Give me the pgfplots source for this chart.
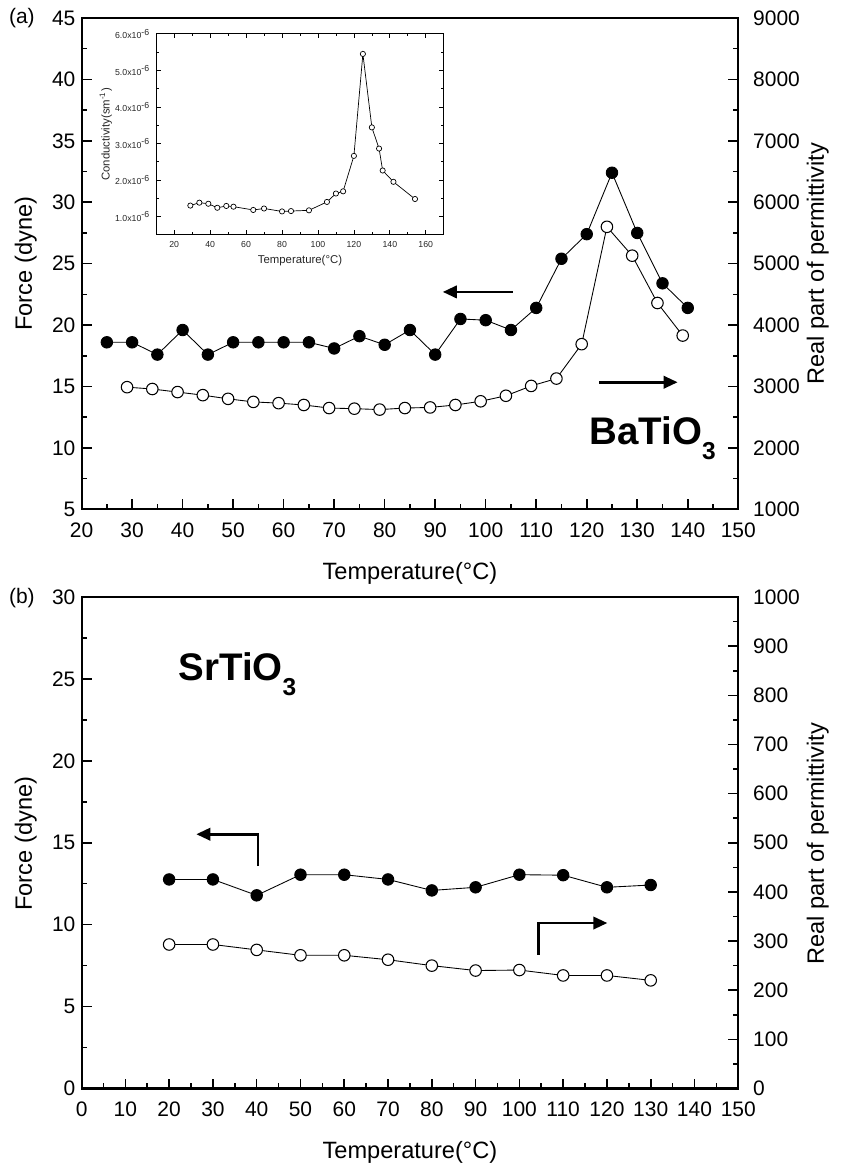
\documentclass[border=0pt]{standalone}
\usepackage{pgfplots}
\pgfplotsset{compat=1.18}
\usepackage{fontspec}
\setmainfont{Liberation Sans}
\usetikzlibrary{arrows.meta}

\pgfplotsset{
  base/.style={
    scale only axis, width=13.2cm, height=9.88cm,
    tick align=inside,
    axis line style={line width=1.2pt},
    major tick length=0.2cm, minor tick length=0.11cm,
    every tick/.style={black, line width=0.9pt},
    tick label style={font=\fontsize{12}{14}\selectfont},
    xticklabel style={yshift=-4pt},
    /pgf/number format/assume math mode=true,
    /pgf/number format/1000 sep={},
  },
  rightax/.style={axis x line=none, axis y line*=right,
    yticklabel style={xshift=5pt}},
}
\tikzset{
  full/.style={black, line width=0.5pt, mark=*, mark size=3.3pt},
  hollow/.style={black, line width=0.5pt, mark=*, mark size=3.3pt,
    mark options={fill=white, draw=black, line width=0.6pt}},
  arr/.style={line width=1.6pt, -{Triangle[length=8pt,width=7pt]}},
}

\begin{document}
\begin{tikzpicture}
\path (0,0) rectangle (16.96,-23.38);

% ---------- (a) BaTiO3 ----------
\begin{scope}[shift={(1.64,-10.24)}]
\begin{axis}[base,
  xmin=20, xmax=150, ymin=5, ymax=45,
  xtick={20,30,...,150}, minor x tick num=1,
  ytick={5,10,...,45}, minor y tick num=1,
  xtick pos=bottom, ytick pos=left]
\addplot[full] coordinates {
 (25,18.6) (30,18.6) (35,17.6) (40,19.6) (45,17.6) (50,18.6) (55,18.6)
 (60,18.6) (65,18.6) (70,18.1) (75,19.1) (80,18.4) (85,19.6) (90,17.6)
 (95,20.5) (100,20.4) (105,19.6) (110,21.4) (115,25.4) (120,27.4)
 (125,32.4) (130,27.5) (135,23.4) (140,21.4)};
\draw[arr] (axis cs:105.4,22.7) -- (axis cs:91.5,22.7);
\draw[arr] (axis cs:122.5,15.35) -- (axis cs:138,15.35);
\node[anchor=west, inner sep=0pt, font=\bfseries\fontsize{22}{26}\selectfont]
  at (axis cs:120.5,10.8) {BaTiO\raisebox{-8.5pt}{\fontsize{14}{14}\selectfont 3}};
\end{axis}

\begin{axis}[base, rightax,
  xmin=20, xmax=150, ymin=1000, ymax=9000,
  ytick={1000,2000,...,9000}, minor y tick num=1]
\addplot[hollow] coordinates {
 (29,2990) (34,2960) (39,2910) (44,2860) (49,2800) (54,2750) (59,2730)
 (64,2700) (69,2650) (74,2640) (79,2625) (84,2650) (89,2660) (94,2700)
 (99,2760) (104,2850) (109,3010) (114,3130) (119,3690) (124,5600)
 (129,5130) (134,4360) (139,3830)};
\end{axis}
\end{scope}

% inset
\begin{scope}[shift={(3.14,-4.72)}]
\begin{axis}[scale only axis,
  width=5.78cm, height=4.04cm,
  xmin=10, xmax=170, ymin=0.5, ymax=6,
  xtick={20,40,...,160}, minor x tick num=1,
  ytick={1,...,6}, minor y tick num=1,
  yticklabels={1.0x10\textsuperscript{-6},2.0x10\textsuperscript{-6},3.0x10\textsuperscript{-6},4.0x10\textsuperscript{-6},5.0x10\textsuperscript{-6},6.0x10\textsuperscript{-6}},
  tick align=inside, major tick length=0.09cm, minor tick length=0.05cm,
  axis line style={line width=0.6pt},
  every tick/.style={black, line width=0.4pt},
  tick label style={font=\fontsize{5}{6}\selectfont, text=black!85},
  label style={font=\fontsize{6.5}{8}\selectfont, text=black!85},
  /pgf/number format/assume math mode=true,
  xlabel={Temperature(°C)}, ylabel={Conductivity(sm\textsuperscript{-1})},
  ylabel style={yshift=-5pt}, xlabel style={yshift=2pt},
  axis background/.style={fill=white}]
\addplot[black, line width=0.4pt, mark=*, mark size=1.5pt,
  mark options={fill=white, draw=black, line width=0.4pt}] coordinates {
 (29,1.30) (34,1.38) (39,1.35) (44,1.24) (49,1.29) (53,1.27) (64,1.18)
 (70,1.22) (80,1.14) (85,1.15) (95,1.17) (105,1.40) (110,1.63) (114,1.69)
 (120,2.66) (125,5.45) (130,3.44) (134,2.86) (136,2.26) (142,1.95) (154,1.48)};
\end{axis}
\end{scope}

% ---------- (b) SrTiO3 ----------
\begin{scope}[shift={(1.64,-21.88)}]
\begin{axis}[base,
  xmin=0, xmax=150, ymin=0, ymax=30,
  xtick={0,10,...,150}, minor x tick num=1,
  ytick={0,5,...,30}, minor y tick num=1,
  xtick pos=bottom, ytick pos=left]
\addplot[full] coordinates {
 (20,12.76) (30,12.76) (40,11.79) (50,13.05) (60,13.05) (70,12.76)
 (80,12.09) (90,12.28) (100,13.05) (110,13.02) (120,12.28) (130,12.42)};
\draw[arr] (axis cs:40.3,13.57) -- (axis cs:40.3,15.52) -- (axis cs:26.2,15.52);
\draw[arr] (axis cs:104.4,8.15) -- (axis cs:104.4,10.1) -- (axis cs:120.1,10.1);
\node[anchor=west, inner sep=0pt, font=\bfseries\fontsize{22}{26}\selectfont]
  at (axis cs:22.1,25.3) {SrTiO\raisebox{-8.5pt}{\fontsize{14}{14}\selectfont 3}};
\end{axis}

\begin{axis}[base, rightax,
  xmin=0, xmax=150, ymin=0, ymax=1000,
  ytick={0,100,...,1000}, minor y tick num=1]
\addplot[hollow] coordinates {
 (20,293) (30,293) (40,282) (50,271) (60,271) (70,262)
 (80,250) (90,240) (100,241) (110,230) (120,230) (130,220)};
\end{axis}
\end{scope}

% labels
\begin{scope}[every node/.style={font=\fontsize{13.5}{16}\selectfont}]
\node at (0.44,-0.36) {\fontsize{12}{14}\selectfont(a)};
\node at (0.44,-12.02) {\fontsize{12}{14}\selectfont(b)};
\node[rotate=90] at (0.52,-5.3) {Force (dyne)};
\node[rotate=90] at (0.52,-16.96) {Force (dyne)};
\node[rotate=90] at (16.44,-5.3) {Real part of permittivity};
\node[rotate=90] at (16.44,-16.96) {Real part of permittivity};
\node at (8.24,-11.52) {Temperature(°C)};
\node at (8.24,-23.16) {Temperature(°C)};
\end{scope}
\end{tikzpicture}
\end{document}
